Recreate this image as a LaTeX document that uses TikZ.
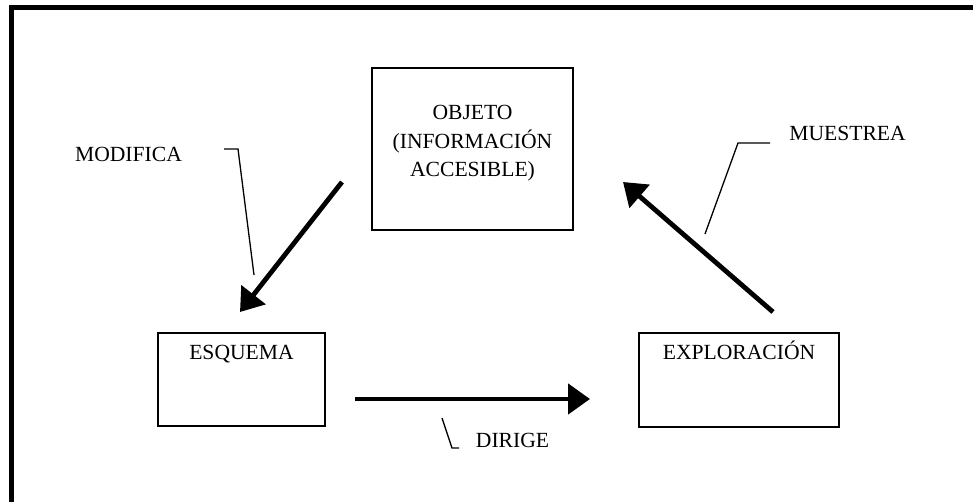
\documentclass[tikz,border=0pt]{standalone}
\usepackage{fontspec}
\setmainfont{Liberation Serif}
\usetikzlibrary{arrows.meta}
\begin{document}
\begin{tikzpicture}[x=1pt,y=-1pt,
  box/.style={draw, line width=1.6pt, rectangle, inner sep=0pt},
  txt/.style={font=\fontsize{21.6}{28.5}\selectfont, inner sep=0pt, anchor=base},
  bigarrow/.style={line width=4.8pt, -{Triangle[length=22pt,width=30pt]}},
  callout/.style={line width=1.3pt},
  frame/.style={line width=5pt}]
\useasboundingbox (0,0) rectangle (973,502);
\draw[frame] (11,502) -- (11,8) -- (973,8);

% boxes
\node[box, minimum width=201pt, minimum height=162pt] (objeto) at (472.5,149) {};
\node[box, minimum width=167pt, minimum height=93pt] (esquema) at (241.5,379.5) {};
\node[box, minimum width=200pt, minimum height=94pt] (explor) at (739,380) {};

% texts
\node[txt, align=center] (tobj) at (472.5,177) {OBJETO\\(INFORMACIÓN\\ACCESIBLE)};
\node[txt] (tesq) at (241.5,359) {ESQUEMA};
\node[txt] (texp) at (739,359) {EXPLORACIÓN};
\node[txt] (tmod) at (128.5,162) {MODIFICA};
\node[txt] (tmue) at (847.5,141) {MUESTREA};
\node[txt] (tdir) at (512.5,447) {DIRIGE};

% arrows
\coordinate (modA) at (342,182);
\coordinate (modB) at (240,312);
\coordinate (mueA) at (773,312);
\coordinate (mueB) at (623,182);
\coordinate (dirA) at (355,399);
\coordinate (dirB) at (590,399);
\draw[bigarrow] (modA) -- (modB);
\draw[bigarrow] (mueA) -- (mueB);
\draw[bigarrow] (dirA) -- (dirB);

% callouts
\coordinate (cm1) at (224,149);
\coordinate (cm2) at (238,149);
\coordinate (cm3) at (254,275);
\draw[callout] (cm1) -- (cm2) -- (cm3);
\coordinate (cu1) at (705,234);
\coordinate (cu2) at (738,143);
\coordinate (cu3) at (770,143);
\draw[callout] (cu1) -- (cu2) -- (cu3);
\coordinate (cd1) at (442,418);
\coordinate (cd2) at (452,448);
\coordinate (cd3) at (459,448);
\draw[callout] (cd1) -- (cd2) -- (cd3);
\end{tikzpicture}
\end{document}
